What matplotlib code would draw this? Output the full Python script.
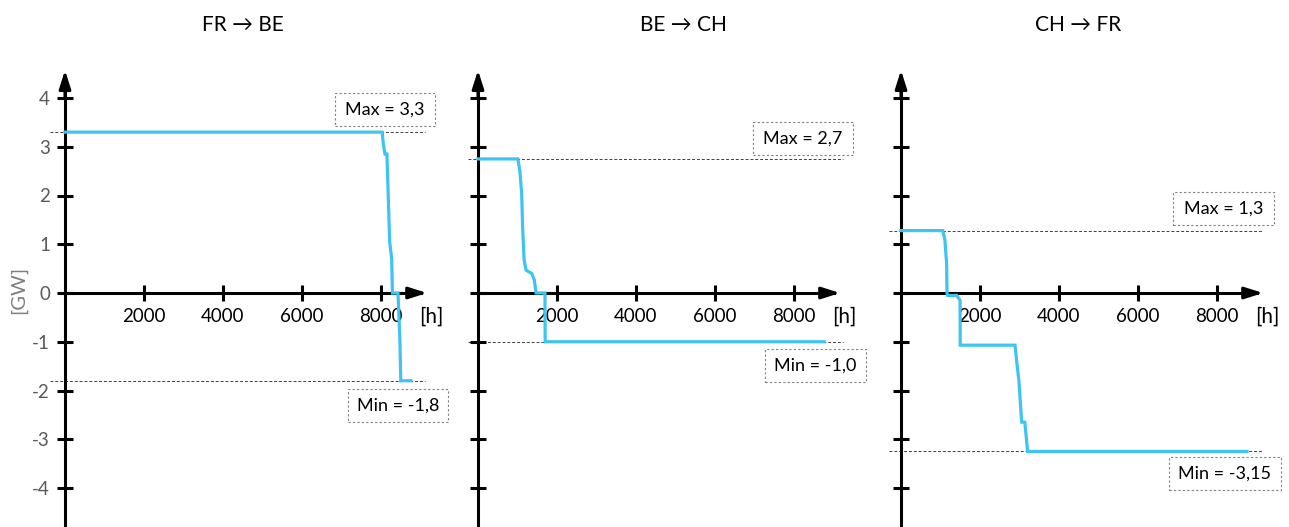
import matplotlib
matplotlib.use("Agg")
import matplotlib.pyplot as plt
from matplotlib.patches import Rectangle

plt.rcParams['font.family'] = ['Lato', 'DejaVu Sans']

# data
titles = ['FR \u2192 BE', 'BE \u2192 CH', 'CH \u2192 FR']

fr_be_h = [0, 8030, 8060, 8100, 8150, 8220, 8270, 8290, 8430, 8480, 8500, 8760]
fr_be_gw = [3.3, 3.3, 3.05, 2.85, 2.85, 1.05, 0.7, 0.0, 0.0, -1.0, -1.8, -1.8]

be_ch_h = [0, 1010, 1060, 1105, 1130, 1165, 1215, 1360, 1425, 1470, 1695, 1700, 8760]
be_ch_gw = [2.75, 2.75, 2.5, 2.05, 1.35, 0.7, 0.47, 0.4, 0.27, 0.0, 0.0, -1.0, -1.0]

ch_fr_h = [0, 1055, 1110, 1155, 1165, 1180, 1410, 1495, 1500, 2885, 2935, 2985, 3055, 3135, 3205, 8760]
ch_fr_gw = [1.28, 1.28, 1.1, 0.6, 0.0, -0.05, -0.05, -0.15, -1.07, -1.07, -1.45, -1.8, -2.65, -2.65, -3.25, -3.25]

max_levels = [3.3, 2.75, 1.28]
min_levels = [-1.8, -1.0, -3.25]
max_labels = ['Max = 3,3', 'Max = 2,7', 'Max = 1,3']
min_labels = ['Min = -1,8', 'Min = -1,0', 'Min = -3,15']

x_ticks = [2000, 4000, 6000, 8000]
y_ticks = [-4, -3, -2, -1, 0, 1, 2, 3, 4]

series = [(fr_be_h, fr_be_gw), (be_ch_h, be_ch_gw), (ch_fr_h, ch_fr_gw)]

# layout (pixels)
W, H = 1289, 527
S = 2000 / 79.0      # hours per pixel
G = 48.75            # pixels per GW
y_zero_px = 293
origins = [65, 478, 901]
title_x = [243, 683, 1078]
max_box = [(320, 3.76, 100), (325, 3.17, 100), (322.5, 1.74, 101)]
min_box = [(333, -2.31, 100), (337.5, -1.49, 101), (324, -3.71, 112)]
ref_span = [(-15, 360), (-10, 365), (-12, 362)]

blue = '#3EC4F2'
gray = '#595959'

fig = plt.figure(figsize=(W / 100, H / 100), dpi=100)

for i in range(3):
    x0 = origins[i]
    left_px, right_px = x0 - 45, x0 + 385
    ax = fig.add_axes([left_px / W, 0, (right_px - left_px) / W, 467 / H])
    ax.set_facecolor('none')
    ax.set_xlim(-45 * S, 385 * S)
    ax.set_ylim((y_zero_px - 527) / G, (y_zero_px - 60) / G)

    for s in ['top', 'right']:
        ax.spines[s].set_visible(False)
    ax.spines['left'].set_position(('data', 0))
    ax.spines['bottom'].set_position(('data', 0))
    ax.spines['left'].set_linewidth(2.2)
    ax.spines['bottom'].set_linewidth(2.2)
    ax.spines['left'].set_bounds(ax.get_ylim()[0], 4.4)
    ax.spines['bottom'].set_bounds(0, 9000)

    ap = dict(arrowstyle='-|>,head_length=1.1,head_width=0.35', color='k', lw=2.2,
              shrinkA=0, shrinkB=0)
    ax.annotate('', xy=(0, 4.57), xytext=(0, 4.0), arrowprops=ap, annotation_clip=False)
    ax.annotate('', xy=(9165, 0), xytext=(8700, 0), arrowprops=ap, annotation_clip=False)

    ax.set_yticks(y_ticks)
    ax.set_xticks(x_ticks)
    ax.tick_params(axis='both', direction='inout', length=11.5, width=2.2)
    ax.tick_params(axis='y', pad=5, labelsize=13.5, labelcolor=gray)
    ax.tick_params(axis='x', pad=5, labelsize=13.5)
    if i == 0:
        ax.set_yticklabels([str(v) for v in y_ticks])
    else:
        ax.set_yticklabels([])
    ax.set_xticklabels([str(v) for v in x_ticks])

    # reference lines
    a, b = ref_span[i]
    for lvl in (max_levels[i], min_levels[i]):
        ax.plot([a * S, b * S], [lvl, lvl], color='#404040', lw=0.7,
                linestyle=(0, (3, 2)), zorder=1)

    hx, gy = series[i]
    ax.plot(hx, gy, color=blue, lw=2.3, zorder=3, solid_joinstyle='miter')

    ax.text(9270, -0.49, '[h]', fontsize=15, ha='center', va='center')

    for (cx, cy, wpx), txt in ((max_box[i], max_labels[i]), (min_box[i], min_labels[i])):
        w = wpx * S
        h = 33 / G
        ax.add_patch(Rectangle((cx * S - w / 2, cy - h / 2), w, h, fill=False,
                               edgecolor='#7f7f7f', lw=0.8, linestyle=(0, (2, 2)),
                               clip_on=False))
        ax.text(cx * S, cy, txt, fontsize=13, ha='center', va='center')

    fig.text(title_x[i] / W, 1 - 25 / H, titles[i], fontsize=15, ha='center', va='center')

fig.text(18 / W, 1 - 290 / H, '[GW]', rotation=90, fontsize=14.5, color='#7f7f7f',
         ha='center', va='center')

fig.savefig('out.png', dpi=100)
